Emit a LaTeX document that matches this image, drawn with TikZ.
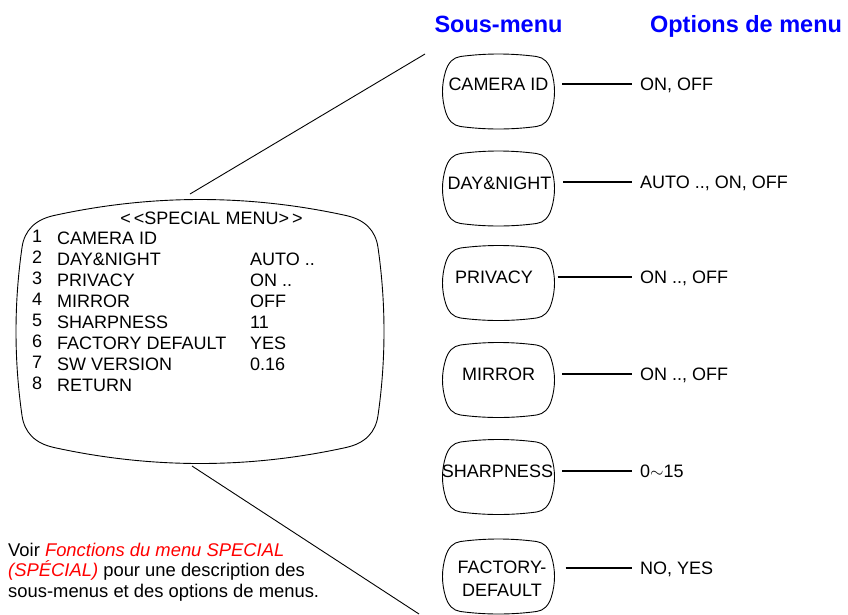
\documentclass[tikz,border=0pt]{standalone}
\usepackage{fontspec}
\setmainfont{Liberation Sans}
\usetikzlibrary{calc}

% cadre d'ecran : centre x, centre y, demi-largeur, demi-hauteur, bombe haut/bas, bombe cotes, coin
\newcommand{\tvframe}[7]{%
  \coordinate (tvN) at ({#1},{#2-#4-#5});
  \coordinate (tvS) at ({#1},{#2+#4+#5});
  \coordinate (tvE) at ({#1+#3+#6},{#2});
  \coordinate (tvW) at ({#1-#3-#6},{#2});
  \coordinate (tvNa) at ({#1-#3+#7},{#2-#4});
  \coordinate (tvNb) at ({#1+#3-#7},{#2-#4});
  \coordinate (tvEa) at ({#1+#3},{#2-#4+#7});
  \coordinate (tvEb) at ({#1+#3},{#2+#4-#7});
  \coordinate (tvSa) at ({#1+#3-#7},{#2+#4});
  \coordinate (tvSb) at ({#1-#3+#7},{#2+#4});
  \coordinate (tvWa) at ({#1-#3},{#2+#4-#7});
  \coordinate (tvWb) at ({#1-#3},{#2-#4+#7});
  \coordinate (tvKne) at (intersection of tvN--tvNb and tvE--tvEa);
  \coordinate (tvKse) at (intersection of tvE--tvEb and tvS--tvSa);
  \coordinate (tvKsw) at (intersection of tvS--tvSb and tvW--tvWa);
  \coordinate (tvKnw) at (intersection of tvW--tvWb and tvN--tvNa);
  \draw[frameline] (tvNa)
    .. controls ($(tvNa)!2/3!(tvN)$) and ($(tvNb)!2/3!(tvN)$) .. (tvNb)
    .. controls ($(tvNb)!2/3!(tvKne)$) and ($(tvEa)!2/3!(tvKne)$) .. (tvEa)
    .. controls ($(tvEa)!2/3!(tvE)$) and ($(tvEb)!2/3!(tvE)$) .. (tvEb)
    .. controls ($(tvEb)!2/3!(tvKse)$) and ($(tvSa)!2/3!(tvKse)$) .. (tvSa)
    .. controls ($(tvSa)!2/3!(tvS)$) and ($(tvSb)!2/3!(tvS)$) .. (tvSb)
    .. controls ($(tvSb)!2/3!(tvKsw)$) and ($(tvWa)!2/3!(tvKsw)$) .. (tvWa)
    .. controls ($(tvWa)!2/3!(tvW)$) and ($(tvWb)!2/3!(tvW)$) .. (tvWb)
    .. controls ($(tvWb)!2/3!(tvKnw)$) and ($(tvNa)!2/3!(tvKnw)$) .. (tvNa) -- cycle;}

\begin{document}
\begin{tikzpicture}[x=1pt, y=-1pt,
        frameline/.style={line width=0.9pt, line join=round},
        zoomline/.style={line width=0.9pt},
        link/.style={line width=1.6pt, shorten <=11.5pt, shorten >=8pt},
        tvlabel/.style={font=\fontsize{18}{21}\selectfont, inner sep=0pt, minimum width=104pt, text height=13pt, text depth=0pt},
        tvlabeltwo/.style={font=\fontsize{18}{23}\selectfont, inner sep=0pt, minimum width=104pt, align=center},
        optlabel/.style={font=\fontsize{18}{21}\selectfont, inner sep=0pt, anchor=west, text height=13pt, text depth=0pt},
        menutext/.style={font=\fontsize{18}{21.1}\selectfont, inner sep=0pt, align=left, anchor=north west},
        headlabel/.style={font=\fontsize{23.5}{28}\selectfont\bfseries, text=blue, inner sep=0pt, text height=17pt, text depth=0pt},
        note/.style={font=\fontsize{18.4}{20.5}\selectfont, inner sep=0pt, align=left, anchor=north west}]
        \useasboundingbox (0,0) rectangle (848,614);

        % Titres
        \node[headlabel] (hsub) at (498.5,24) {Sous-menu};
        \node[headlabel] (hopt) at (746,24) {Options de menu};

        % Grand ecran
        \tvframe{200}{331.5}{178}{116}{32}{12}{32}
        \node[menutext, text height=13pt, text depth=0pt, anchor=center] (menutitle) at (211.5,218) {<\kern3pt<SPECIAL MENU>\kern3pt>};
        \node[menutext] (menunum) at (32,229.5) {1\\2\\3\\4\\5\\6\\7\\8};
        \node[menutext] (menuitem) at (57,231.5) {CAMERA ID\\DAY\&NIGHT\\PRIVACY\\MIRROR\\SHARPNESS\\FACTORY DEFAULT\\SW VERSION\\RETURN};
        \node[menutext] (menuval) at (250,252.5) {AUTO ..\\ON ..\\OFF\\11\\YES\\0.16};

        % Lignes de zoom
        \coordinate (scrtop) at (190,194);
        \coordinate (camcorner) at (425,54);
        \coordinate (scrbot) at (192,466);
        \coordinate (facbottom) at (419,614);
        \draw[zoomline] (scrtop) -- (camcorner);
        \draw[zoomline] (scrbot) -- (facbottom);

        % Sous-menus
        \tvframe{498.5}{91.5}{53}{35}{5}{6}{15}
        \node[tvlabel] (cam) at (498.5,84) {CAMERA ID};
        \tvframe{498.5}{188.5}{53}{35}{5}{6}{15}
        \node[tvlabel] (daynight) at (499.5,183) {DAY\&NIGHT};
        \tvframe{498.5}{283}{53}{35}{5}{6}{15}
        \node[tvlabel] (privacy) at (494,277) {PRIVACY};
        \tvframe{498.5}{380}{53}{35}{5}{6}{15}
        \node[tvlabel] (mirror) at (498.5,374) {MIRROR};
        \tvframe{498.5}{477}{53}{35}{5}{6}{15}
        \node[tvlabel] (sharp) at (497.5,471) {SHARPNESS};
        \tvframe{498.5}{576.5}{53}{35}{5}{6}{15}
        \node[tvlabeltwo] (factory) at (502,578.5) {FACTORY-\\DEFAULT};

        % Options de menu
        \node[optlabel] (camopt) at (640,84) {ON, OFF};
        \node[optlabel] (daynightopt) at (640,182) {AUTO .., ON, OFF};
        \node[optlabel] (privacyopt) at (640,277) {ON .., OFF};
        \node[optlabel] (mirroropt) at (640,374) {ON .., OFF};
        \node[optlabel] (sharpopt) at (640,471) {0${\sim}$15};
        \node[optlabel] (factoryopt) at (640,568) {NO, YES};
        \draw[link] (cam.east |- camopt.west) -- (camopt.west);
        \draw[link] (daynight.east |- daynightopt.west) -- (daynightopt.west);
        \draw[link] (privacy.east |- privacyopt.west) -- (privacyopt.west);
        \draw[link] (mirror.east |- mirroropt.west) -- (mirroropt.west);
        \draw[link, shorten <=9pt] (sharp.east |- sharpopt.west) -- (sharpopt.west);
        \draw[link] (factory.east |- factoryopt.west) -- (factoryopt.west);

        % Renvoi
        \node[note] (voir) at (8,542.5) {Voir \textcolor{red}{\itshape Fonctions du menu SPECIAL}\\\textcolor{red}{\itshape (SPÉCIAL)} pour une description des\\sous-menus et des options de menus.};
\end{tikzpicture}
\end{document}
